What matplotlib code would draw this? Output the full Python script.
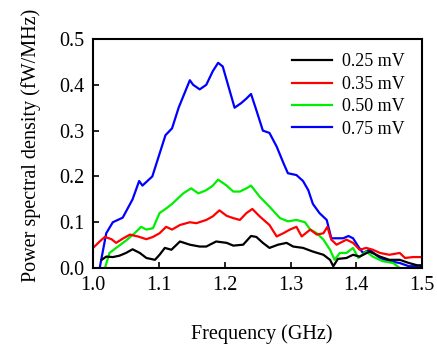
import numpy as np
import matplotlib.pyplot as plt

plt.rcParams['font.family'] = 'Liberation Serif'

# Blue, 0.75 mV
f_075 = [1.010, 1.020, 1.030, 1.045, 1.060, 1.070, 1.075, 1.090, 1.100, 1.110, 1.120, 1.130,
         1.147, 1.152, 1.162, 1.172, 1.182, 1.190, 1.197, 1.205, 1.215, 1.225, 1.233, 1.240,
         1.248, 1.258, 1.268, 1.279, 1.289, 1.296, 1.309, 1.319, 1.327, 1.334, 1.344, 1.355,
         1.362, 1.370, 1.380, 1.388, 1.395, 1.403, 1.410, 1.420, 1.436, 1.450, 1.466, 1.480,
         1.490, 1.500]
p_075 = [0.000, 0.076, 0.100, 0.110, 0.150, 0.190, 0.180, 0.200, 0.245, 0.290, 0.305, 0.350,
         0.410, 0.400, 0.390, 0.400, 0.430, 0.448, 0.440, 0.400, 0.350, 0.360, 0.370, 0.380,
         0.345, 0.300, 0.295, 0.265, 0.230, 0.207, 0.203, 0.190, 0.170, 0.140, 0.120, 0.105,
         0.065, 0.065, 0.065, 0.070, 0.065, 0.047, 0.033, 0.040, 0.022, 0.015, 0.011, 0.004,
         0.004, 0.007]

# Green, 0.50 mV
f_050 = [1.018, 1.025, 1.035, 1.050, 1.063, 1.073, 1.081, 1.091, 1.101, 1.111, 1.120, 1.137,
         1.149, 1.160, 1.172, 1.182, 1.190, 1.203, 1.213, 1.223, 1.233, 1.240, 1.253, 1.268,
         1.284, 1.296, 1.309, 1.322, 1.330, 1.340, 1.350, 1.360, 1.367, 1.375, 1.385, 1.395,
         1.403, 1.415, 1.425, 1.440, 1.456, 1.466]
p_050 = [0.000, 0.033, 0.044, 0.060, 0.076, 0.090, 0.084, 0.087, 0.120, 0.130, 0.140, 0.163,
         0.174, 0.163, 0.170, 0.180, 0.193, 0.180, 0.167, 0.167, 0.174, 0.180, 0.156, 0.134,
         0.109, 0.102, 0.105, 0.100, 0.084, 0.076, 0.062, 0.040, 0.018, 0.033, 0.033, 0.044,
         0.022, 0.036, 0.025, 0.015, 0.011, 0.000]

# Red, 0.35 mV
f_035 = [1.000, 1.010, 1.018, 1.028, 1.035, 1.046, 1.056, 1.068, 1.081, 1.091, 1.101, 1.111,
         1.120, 1.132, 1.147, 1.157, 1.172, 1.182, 1.192, 1.203, 1.213, 1.223, 1.233, 1.242,
         1.253, 1.268, 1.279, 1.289, 1.299, 1.309, 1.317, 1.330, 1.340, 1.350, 1.356, 1.362,
         1.370, 1.385, 1.395, 1.405, 1.415, 1.425, 1.436, 1.450, 1.466, 1.474, 1.486, 1.500]
p_035 = [0.044, 0.058, 0.068, 0.063, 0.055, 0.065, 0.073, 0.069, 0.063, 0.068, 0.076, 0.090,
         0.084, 0.094, 0.100, 0.098, 0.105, 0.113, 0.126, 0.114, 0.109, 0.105, 0.120, 0.129,
         0.113, 0.094, 0.069, 0.076, 0.084, 0.090, 0.069, 0.084, 0.073, 0.076, 0.090, 0.062,
         0.051, 0.062, 0.055, 0.040, 0.044, 0.040, 0.033, 0.029, 0.033, 0.022, 0.024, 0.024]

# Black, 0.25 mV
f_025 = [1.013, 1.020, 1.030, 1.040, 1.050, 1.060, 1.071, 1.081, 1.094, 1.101, 1.109, 1.119,
         1.132, 1.147, 1.162, 1.172, 1.187, 1.203, 1.213, 1.228, 1.240, 1.248, 1.258, 1.268,
         1.281, 1.294, 1.304, 1.319, 1.334, 1.350, 1.360, 1.365, 1.372, 1.385, 1.395, 1.405,
         1.420, 1.436, 1.450, 1.466, 1.480, 1.490, 1.500]
p_025 = [0.018, 0.025, 0.024, 0.027, 0.033, 0.041, 0.033, 0.022, 0.018, 0.029, 0.044, 0.040,
         0.058, 0.051, 0.047, 0.047, 0.058, 0.055, 0.049, 0.051, 0.070, 0.068, 0.055, 0.044,
         0.051, 0.055, 0.047, 0.044, 0.036, 0.029, 0.018, 0.004, 0.020, 0.022, 0.029, 0.025,
         0.036, 0.025, 0.018, 0.018, 0.011, 0.007, 0.004]

labels = ['0.25 mV', '0.35 mV', '0.50 mV', '0.75 mV']
colors = ['black', '#ff0000', '#00ee00', '#0000ff']
x_ticks = [1.0, 1.1, 1.2, 1.3, 1.4, 1.5]
y_ticks = [0.0, 0.1, 0.2, 0.3, 0.4, 0.5]

fig = plt.figure(figsize=(4.37, 3.45), dpi=100)
ax = fig.add_axes([0.213, 0.223, 0.753, 0.664])

# draw back to front so the black line ends up on top
series = [(f_075, p_075), (f_050, p_050), (f_035, p_035), (f_025, p_025)]
handles = []
for (f, p), lab, c in zip(series, labels[::-1], colors[::-1]):
    h, = ax.plot(f, p, color=c, lw=1.6, label=lab)
    handles.append(h)

ax.set_xlim(1.0, 1.5)
ax.set_ylim(0.0, 0.5)
ax.set_xticks(x_ticks)
ax.set_yticks(y_ticks)
ax.set_xticklabels([f'{v:.1f}' for v in x_ticks])
ax.set_yticklabels([f'{v:.1f}' for v in y_ticks])
ax.tick_params(direction='in', length=4, width=1.2, labelsize=14.5, top=False, right=False, pad=6)
for s in ax.spines.values():
    s.set_linewidth(1.5)

ax.set_xlabel('Frequency (GHz)', fontsize=14.5)
ax.set_ylabel('Power spectral density (fW/MHz)', fontsize=14.5)
ax.xaxis.set_label_coords(0.514, -0.245)
ax.yaxis.set_label_coords(-0.157, 0.535)

ax.legend(handles[::-1], labels, loc='upper left', bbox_to_anchor=(0.668, 0.845),
          bbox_transform=fig.transFigure, frameon=False, fontsize=13,
          handlelength=2.2, handletextpad=0.6, labelspacing=0.3, borderpad=0, borderaxespad=0)

fig.savefig('out.png', dpi=100)
